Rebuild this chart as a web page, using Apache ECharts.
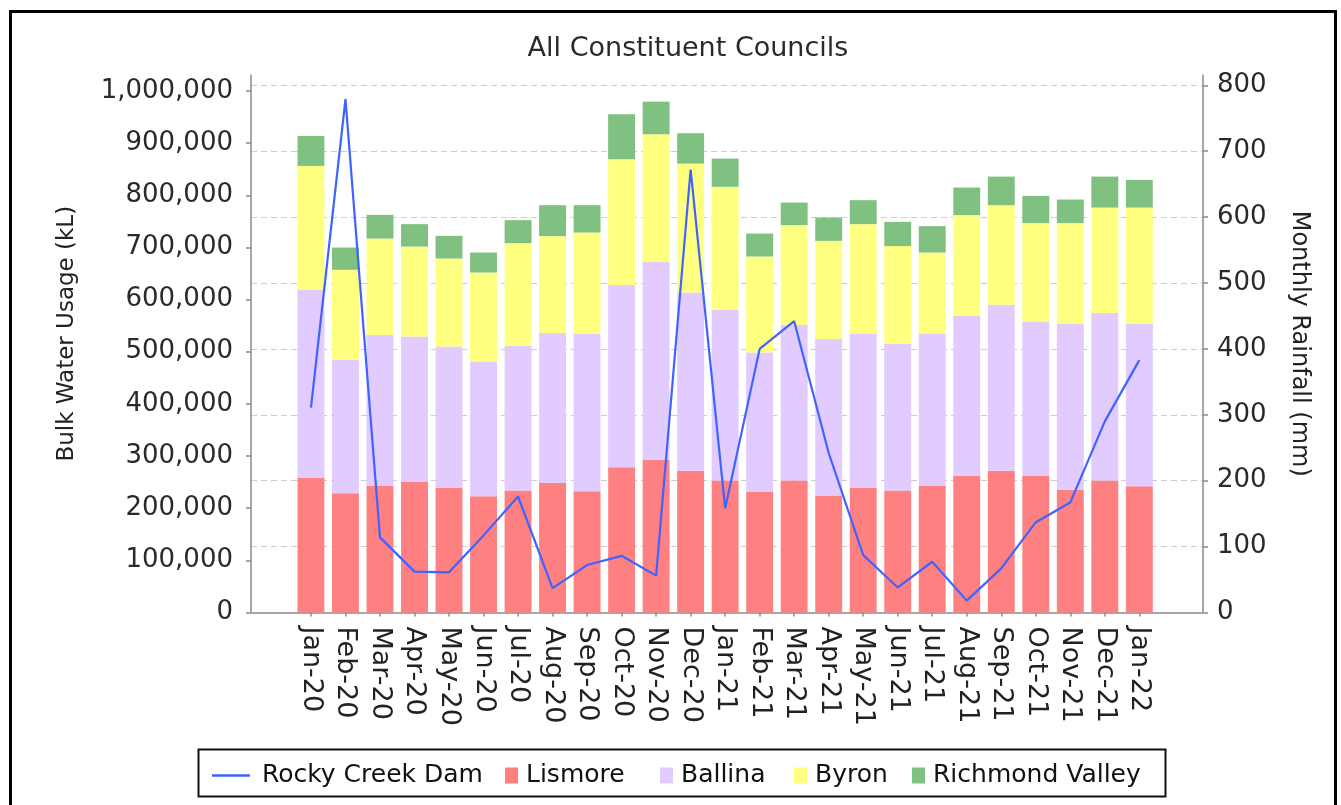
<!DOCTYPE html>
<html>
<head>
<meta charset="utf-8">
<script src="https://cdn.jsdelivr.net/npm/echarts@6/dist/echarts.min.js"></script>
<style>
html,body{margin:0;padding:0;background:#fff;}
#chart{width:1341px;height:805px;}
</style>
</head>
<body>
<div id="chart"></div>
<script>
const categories = ['Jan-20','Feb-20','Mar-20','Apr-20','May-20','Jun-20','Jul-20','Aug-20','Sep-20','Oct-20','Nov-20','Dec-20',
  'Jan-21','Feb-21','Mar-21','Apr-21','May-21','Jun-21','Jul-21','Aug-21','Sep-21','Oct-21','Nov-21','Dec-21','Jan-22'];
const lismore = [258000,228500,243300,251000,238900,222800,233700,248400,232400,278400,292500,272000,
  252900,231800,252900,224100,238900,233700,243300,261900,272000,262500,235100,252900,242000];
const ballina = [360200,255600,288700,278300,271300,258600,277800,287400,301500,349400,379900,341600,
  327600,266900,298200,300200,296200,281000,291800,307100,318000,295500,319100,321200,312200];
const byron = [238100,173000,185000,172400,168500,170500,196700,185800,194600,241400,244600,247100,
  235600,183900,191600,188300,209500,187800,155100,192900,191000,188600,192400,202300,222200];
const richmondValley = [57500,42700,45500,42900,43500,38300,44100,59400,52500,86200,62500,58300,
  54200,44000,43300,44700,46000,46500,50600,52900,54800,52300,45200,59400,53100];
const rainfall = [311,779,114,62,61,117,176,37,72,86,56,672,
  158,400,442,242,87,38,77,18,67,137,167,290,383];
const usageTicks = [0,100000,200000,300000,400000,500000,600000,700000,800000,900000,1000000];
const rainTicks = [0,100,200,300,400,500,600,700,800];

const FONT = 'DejaVu Sans';
const USAGE_MAX = 1030600;
const RAIN_MAX = 815.6;
const fmt = v => String(v).replace(/\B(?=(\d{3})+(?!\d))/g, ',');

const chart = echarts.init(document.getElementById('chart'), null, {renderer:'canvas'});
const axisLineStyle = {color:'#8a8a8a', width:1.5};
const legendText = {fontFamily:FONT, fontSize:25, color:'#111', padding:[0,0,0,3]};
function barLegend(name, left){
  return {data:[{name:name, icon:'rect'}], left:left, top:758, itemWidth:13, itemHeight:16, textStyle:legendText};
}
const option = {
  backgroundColor:'#ffffff',
  animation:false,
  title:{
    text:'All Constituent Councils',
    left:683, top:30, textAlign:'center',
    textStyle:{fontFamily:FONT, fontSize:27, fontWeight:'normal', color:'#2a2a2a'}
  },
  grid:[
    {left:251, right:138, top:75, bottom:192.5},
    {left:293.7, right:184.4, top:75, bottom:192.5}
  ],
  xAxis:[
    {gridIndex:0, type:'value', min:0, max:1, position:'bottom',
     axisLine:{show:true, onZero:false, lineStyle:axisLineStyle},
     axisTick:{show:false}, axisLabel:{show:false}, splitLine:{show:false}},
    {gridIndex:1, type:'category', data:categories, position:'bottom', boundaryGap:true,
     axisLine:{show:false},
     axisTick:{show:true, alignWithLabel:true, length:4, lineStyle:{color:'#8a8a8a', width:1.5}},
     axisLabel:{rotate:-90, margin:14, interval:0, fontFamily:FONT, fontSize:27, color:'#222'},
     splitLine:{show:false}}
  ],
  yAxis:[
    {gridIndex:0, type:'value', position:'left', min:0, max:USAGE_MAX, interval:100000,
     name:'Bulk Water Usage (kL)', nameLocation:'middle', nameRotate:90, nameGap:172,
     nameTextStyle:{fontFamily:FONT, fontSize:23, color:'#222', padding:[0,0,0,20]},
     axisLine:{show:true, lineStyle:axisLineStyle},
     axisTick:{show:true, length:5, customValues:usageTicks, lineStyle:{color:'#8a8a8a', width:1.5}},
     axisLabel:{customValues:usageTicks, formatter:v=>fmt(v), margin:18, fontFamily:FONT, fontSize:26, color:'#2a2a2a'},
     splitLine:{show:false}},
    {gridIndex:0, type:'value', position:'right', min:0, max:RAIN_MAX, interval:100,
     name:'Monthly Rainfall (mm)', nameLocation:'middle', nameRotate:-90, nameGap:84,
     nameTextStyle:{fontFamily:FONT, fontSize:24, color:'#222'},
     axisLine:{show:true, lineStyle:axisLineStyle},
     axisTick:{show:true, length:5, customValues:rainTicks, lineStyle:{color:'#8a8a8a', width:1.5}},
     axisLabel:{customValues:rainTicks, margin:14, fontFamily:FONT, fontSize:26, color:'#2a2a2a'},
     splitLine:{show:true, showMinLine:false, lineStyle:{color:'#cccccc', type:[6,4], width:1}}},
    {gridIndex:1, type:'value', min:0, max:USAGE_MAX, show:false, splitLine:{show:false}},
    {gridIndex:1, type:'value', min:0, max:RAIN_MAX, show:false, splitLine:{show:false}}
  ],
  legend:[
    {data:[{name:'Rocky Creek Dam', icon:'rect'}], left:207, top:758, itemWidth:38, itemHeight:2.5,
     itemStyle:{color:'#3f63ff'},
     textStyle:{fontFamily:FONT, fontSize:25, color:'#111', padding:[0,0,0,7]}},
    barLegend('Lismore', 500),
    barLegend('Ballina', 655),
    barLegend('Byron', 789),
    barLegend('Richmond Valley', 907)
  ],
  graphic:[
    {type:'rect', shape:{x:10.5, y:11.5, width:1325, height:900}, style:{fill:'none', stroke:'#000', lineWidth:3}, silent:true},
    {type:'rect', shape:{x:198.5, y:749.5, width:967, height:47}, style:{fill:'none', stroke:'#111', lineWidth:2}, silent:true}
  ],
  series:[
    {name:'Lismore', type:'bar', stack:'usage', xAxisIndex:1, yAxisIndex:2, data:lismore, barCategoryGap:'22%', itemStyle:{color:'#ff8080'}},
    {name:'Ballina', type:'bar', stack:'usage', xAxisIndex:1, yAxisIndex:2, data:ballina, barCategoryGap:'22%', itemStyle:{color:'#e2cbff'}},
    {name:'Byron', type:'bar', stack:'usage', xAxisIndex:1, yAxisIndex:2, data:byron, barCategoryGap:'22%', itemStyle:{color:'#ffff80'}},
    {name:'Richmond Valley', type:'bar', stack:'usage', xAxisIndex:1, yAxisIndex:2, data:richmondValley, barCategoryGap:'22%', itemStyle:{color:'#80c080'}},
    {name:'Rocky Creek Dam', type:'line', xAxisIndex:1, yAxisIndex:3, data:rainfall, symbol:'none', z:5,
     lineStyle:{color:'#3f63ff', width:2.2}, itemStyle:{color:'#3f63ff'}}
  ]
};
chart.setOption(option);
</script>
</body>
</html>
